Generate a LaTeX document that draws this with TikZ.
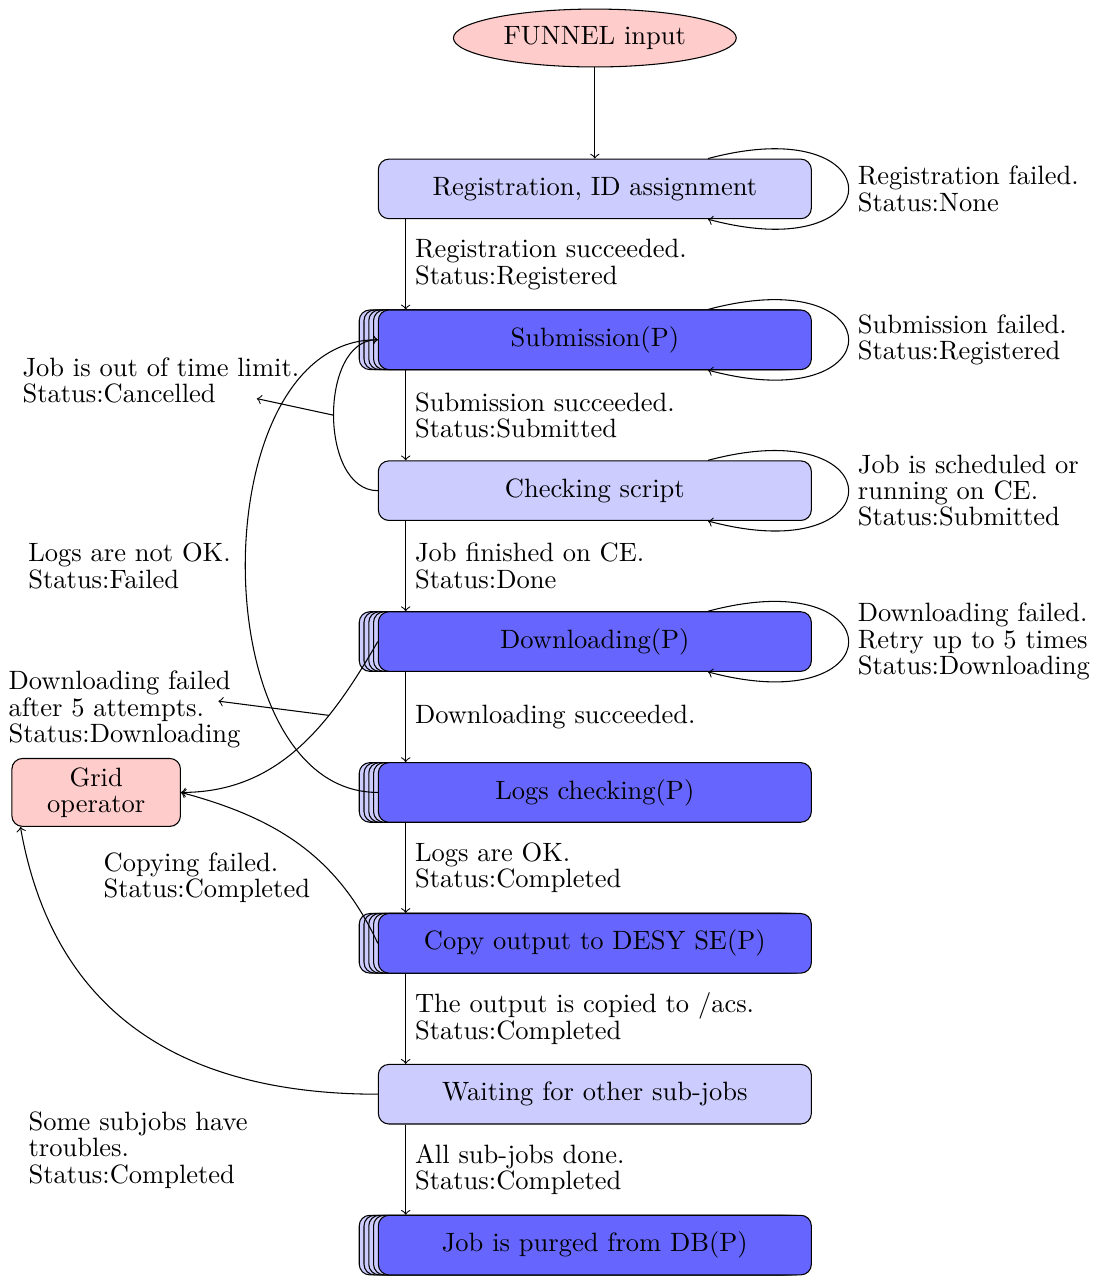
\documentclass[tikz,border=0pt]{standalone}
\usetikzlibrary{shapes,arrows,positioning,shadows,calc}

\begin{document}
\begin{tikzpicture}
[node distance=2cm,on grid,
start/.style={ellipse,draw,fill=red!20},
block/.style={rectangle,draw,fill=blue!20,rounded corners,minimum width=5.74cm,minimum height=0.79cm},
pshadow/.style={general shadow={shadow xshift=#1,shadow yshift=0pt,draw=black,fill=blue!20}},
pblock/.style={block,fill=blue!60,pshadow=-7.2pt,pshadow=-5.4pt,pshadow=-3.6pt,pshadow=-1.8pt},
oper/.style={rectangle,draw,fill=red!20,rounded corners,text width=2cm,align=center,font=\linespread{0.83}\selectfont},
lbl/.style={align=left,font=\linespread{0.83}\selectfont},
line/.style={draw,->},
retry/.style={loop right,looseness=8.2}
]
\useasboundingbox (-7.885,0.504) rectangle (6.611,-16.41);
%% main column
\node[start] (funnel) {FUNNEL input};
\node[block,below=of funnel] (reg) {Registration, ID assignment};
\node[pblock,below=of reg] (sub) {Submission(P)};
\node[block,below=of sub] (check) {Checking script};
\node[pblock,below=of check] (down) {Downloading(P)};
\node[pblock,below=of down] (logs) {Logs checking(P)};
\node[pblock,below=of logs] (copy) {Copy output to DESY SE(P)};
\node[block,below=of copy] (wait) {Waiting for other sub-jobs};
\node[pblock,below=of wait] (purge) {Job is purged from DB(P)};
%% operator
\node[oper,left=6.61cm of logs] (grid) {Grid\\operator};
%% forward steps
\path[line] (funnel) -- (reg);
\path[line] ([xshift=.37cm]reg.south west) -- node[right,lbl]{Registration succeeded.\\Status:Registered} ([xshift=.37cm]sub.north west);
\path[line] ([xshift=.37cm]sub.south west) -- node[right,lbl]{Submission succeeded.\\Status:Submitted} ([xshift=.37cm]check.north west);
\path[line] ([xshift=.37cm]check.south west) -- node[right,lbl]{Job finished on CE.\\Status:Done} ([xshift=.37cm]down.north west);
\path[line] ([xshift=.37cm]down.south west) -- node[right,lbl]{Downloading succeeded.} ([xshift=.37cm]logs.north west);
\path[line] ([xshift=.37cm]logs.south west) -- node[right,lbl]{Logs are OK.\\Status:Completed} ([xshift=.37cm]copy.north west);
\path[line] ([xshift=.37cm]copy.south west) -- node[right,lbl]{The output is copied to /acs.\\Status:Completed} ([xshift=.37cm]wait.north west);
\path[line] ([xshift=.37cm]wait.south west) -- node[right,lbl]{All sub-jobs done.\\Status:Completed} ([xshift=.37cm]purge.north west);
%% retries
\path[line] (reg) edge[retry] node[right,lbl]{Registration failed.\\Status:None} (reg);
\path[line] (sub) edge[retry] node[right,lbl]{Submission failed.\\Status:Registered} (sub);
\path[line] (check) edge[retry] node[right,lbl]{Job is scheduled or\\running on CE.\\Status:Submitted} (check);
\path[line] (down) edge[retry] node[right,lbl]{Downloading failed.\\Retry up to 5 times\\Status:Downloading} (down);
%% back to submission
\path[line] (check.west) to[out=180,in=180] coordinate[midway] (resub) (sub.west);
\path[line] (logs.west) to[out=180,in=180] node[left=.07cm,lbl]{Logs are not OK.\\Status:Failed} (sub.west);
\node[lbl,anchor=west] (tlim) at (-7.71,-4.54) {Job is out of time limit.\\Status:Cancelled};
\coordinate (tlimtip) at (-4.48,-4.78);
\path[line] (resub) -- (tlimtip);
%% to the operator
\path[line] (down.west) to[out=240,in=0] coordinate[pos=.32] (dfail) (grid.east);
\path[line] (copy.west) to[out=115,in=-15] (grid.east);
\path[line] (wait.west) to[out=180,in=-80,looseness=1.1] ([xshift=.12cm]grid.south west);
\node[lbl,anchor=west] (dlim) at (-7.895,-8.90) {Downloading failed\\after 5 attempts.\\Status:Downloading};
\coordinate (dlimtip) at (-4.99,-8.79);
\path[line] (dfail) -- (dlimtip);
\node[lbl,anchor=west] (cfail) at (-6.635,-11.13) {Copying failed.\\Status:Completed};
\node[lbl,anchor=west] (sfail) at (-7.63,-14.74) {Some subjobs have\\troubles.\\Status:Completed};
\end{tikzpicture}
\end{document}
